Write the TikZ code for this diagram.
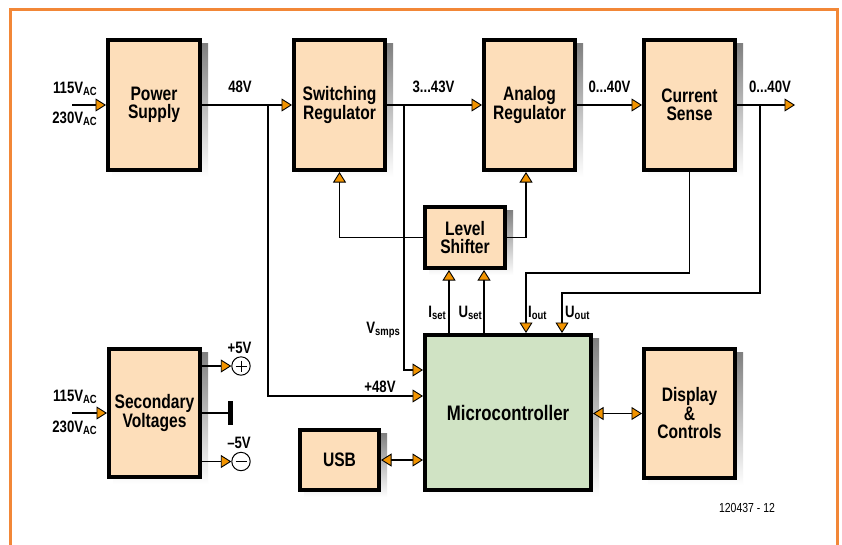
\documentclass[tikz,border=0pt]{standalone}
\usepackage{fontspec}
\setmainfont{Liberation Sans}[FakeStretch=0.8]
\usetikzlibrary{arrows.meta,calc,backgrounds}
\definecolor{peach}{RGB}{253,222,186}
\definecolor{mint}{RGB}{208,227,196}
\definecolor{frameor}{RGB}{242,135,55}
\definecolor{arrowor}{RGB}{242,148,0}
\definecolor{shade}{RGB}{200,200,200}
\newcommand\mysub[1]{\raisebox{-2.5pt}{\fontsize{11.8}{12}\selectfont #1}}
\begin{document}
\begin{tikzpicture}[x=1pt,y=-1pt,
  box/.style={draw=black, line width=4pt, outer sep=2pt, fill=peach, align=center, inner sep=0pt,
    font=\bfseries\fontsize{19.5}{18.5}\selectfont},
  lab/.style={inner sep=0pt, font=\bfseries\fontsize{16.5}{17}\selectfont},
  wire/.style={line width=1.1pt},
  tip/.style={},
  arr/.style={line width=1.1pt, -{Triangle[length=10.5pt,width=13pt,fill=arrowor,line width=0.9pt]}},
  dbl/.style={line width=1.1pt, {Triangle[length=10.5pt,width=13pt,fill=arrowor,line width=0.9pt]}-{Triangle[length=10.5pt,width=13pt,fill=arrowor,line width=0.9pt]}},
  pole/.style={circle, draw=black, line width=1pt, fill=white, minimum size=18.4pt, inner sep=0pt}
]
\useasboundingbox (0,0) rectangle (842,544);
% frame
\draw[frameor, line width=3pt] (10,560) -- (10,9) -- (837,9) -- (837,560);

% boxes
\node[box, minimum width=92pt, minimum height=130pt] (ps) at (154,105) {Power\\Supply};
\node[box, minimum width=91pt, minimum height=130pt] (sr) at (339.5,105) {Switching\\Regulator};
\node[box, minimum width=91pt, minimum height=130pt] (ar) at (529.5,105) {Analog\\Regulator};
\node[box, minimum width=91pt, minimum height=130pt] (cs) at (689.5,105) {Current\\Sense};
\node[box, minimum width=80pt, minimum height=61pt, font=\bfseries\fontsize{19.5}{17.7}\selectfont] (ls) at (465,237.5) {Level\\Shifter};
\node[box, fill=mint, line width=4.3pt, minimum width=166pt, minimum height=155pt, font=\bfseries\fontsize{21}{22}\selectfont] (mc) at (508,412.5) {Microcontroller};
\node[box, minimum width=91pt, minimum height=128pt] (sv) at (154.5,413) {Secondary\\Voltages};
\node[box, minimum width=79pt, minimum height=60pt] (usb) at (339.5,460) {USB};
\node[box, minimum width=91pt, minimum height=129pt] (dc) at (689.5,413.5) {Display\\\&\\Controls};

% background + shadows
\begin{scope}[on background layer]
  \fill[white] (0,0) rectangle (842,544);
  \foreach \n in {ps,sr,ar,cs,ls,mc,sv,usb,dc}
    \fill[shade] ($(\n.north west)+(6,5)$) rectangle ($(\n.south east)+(6,5)$);
\end{scope}

% terminals on secondary voltages
\node[pole] (pos) at (241,366) {};
\node[pole] (neg) at (241,461.5) {};
\draw[line width=1pt] ($(pos.center)+(-5.5,0)$) -- ($(pos.center)+(5.5,0)$)
  ($(pos.center)+(0,-5.5)$) -- ($(pos.center)+(0,5.5)$);
\draw[line width=1pt] ($(neg.center)+(-5.5,0)$) -- ($(neg.center)+(5.5,0)$);
\node[fill=black, minimum width=5.5pt, minimum height=24pt, inner sep=0pt, outer sep=0pt] (gnd) at (230.7,413) {};

% coordinates
\coordinate (inA) at (72,105);
\coordinate (inB) at (72,413);
\coordinate (outV) at (795,105);
\coordinate (j48) at (268,105);
\coordinate (jsm) at (404,105);
\coordinate (jout) at (760,105);

% connectors
\draw[arr] (inA) -- (ps.west);
\draw[arr] (inB) -- (sv.west);
\draw[arr] (ps.east) -- (sr.west);
\draw[arr] (sr.east) -- (ar.west);
\draw[arr] (ar.east) -- (cs.west);
\draw[arr] (cs.east) -- (outV);
\draw[arr] (j48) |- (mc.west |- 0,396);
\draw[arr] (jsm) |- (mc.west |- 0,370);
\draw[arr] (jout) |- (562,293) -- (mc.north -| 562,0);
\draw[arr] (cs.south) |- (526,273) -- (mc.north -| 526,0);
\draw[arr] (mc.north -| 449,0) -- (ls.south -| 449,0);
\draw[arr] (mc.north -| 484,0) -- (ls.south -| 484,0);
\draw[arr] (ls.west) -| (sr.south);
\draw[arr] (ls.east) -| (ar.south -| 526,0);
\draw[dbl] (usb.east) -- (mc.west |- usb.east);
\draw[dbl] (mc.east |- dc.west) -- (dc.west);
\draw[arr] (sv.east |- pos) -- (pos.west);
\draw[arr] (sv.east |- neg) -- (neg.west);
\draw[wire] (sv.east) -- (gnd.west);

% labels
\node[lab, anchor=base east] (t1) at (97,93) {115V\mysub{AC}};
\node[lab, anchor=base east] (t2) at (97,123) {230V\mysub{AC}};
\node[lab, anchor=base east] (t3) at (97,401) {115V\mysub{AC}};
\node[lab, anchor=base east] (t4) at (97,432) {230V\mysub{AC}};
\node[lab, anchor=base] (l48) at (240,92) {48V};
\node[lab, anchor=base] (l343) at (433.5,92) {3...43V};
\node[lab, anchor=base] (l040a) at (609.5,92) {0...40V};
\node[lab, anchor=base] (l040b) at (770,92) {0...40V};
\node[lab, anchor=base] (lp5) at (239.5,353) {+5V};
\node[lab, anchor=base] (lm5) at (239,448) {–5V};
\node[lab, anchor=base] (lp48) at (380,392) {+48V};
\node[lab, anchor=base east] (lvs) at (400,333) {V\mysub{smps}};
\node[lab, anchor=base east] (lis) at (446,317) {I\mysub{set}};
\node[lab, anchor=base east] (lus) at (482,317) {U\mysub{set}};
\node[lab, anchor=base west] (lio) at (528,317) {I\mysub{out}};
\node[lab, anchor=base west] (luo) at (565,317) {U\mysub{out}};
\node[inner sep=0pt, anchor=base, font=\fontsize{13.1}{14}\selectfont] (ref) at (747,512) {120437 - 12};
\end{tikzpicture}
\end{document}
